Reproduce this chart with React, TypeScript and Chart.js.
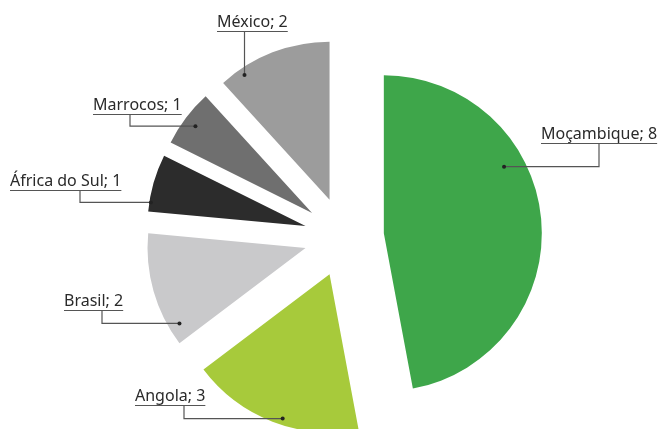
import React, { useEffect, useRef } from "react";
import { Chart, registerables } from "chart.js";

Chart.register(...registerables);

const CATEGORIES = ["Moçambique", "Angola", "Brasil", "África do Sul", "Marrocos", "México"];
const VALUES = [8, 3, 2, 1, 1, 2];
const COLORS = ["#3ea64a", "#a7ca3b", "#c9c9cb", "#2c2c2c", "#6f6f6f", "#9c9c9c"];

// label layout (positions kept separate from data)
const LABEL_X = [541, 135, 64, 10, 93, 217];
const LABEL_LINE_Y = [143, 405, 310, 190, 114, 31];
const ELBOW_X: (number | null)[] = [599, 184, 102, 80, 130, null];
const DOT_ANGLE_FRAC = [0.36, 0.45, 0.145, 0.16, 0.48, 0.19];
const DOT_RADIUS_FRAC = [0.87, 0.96, 0.93, 0.99, 0.92, 0.955];

const EXPLODE = 40;

const explodePlugin = {
  id: "explode",
  beforeDatasetsDraw(chart: any) {
    const ctx = chart.ctx;
    const meta = chart.getDatasetMeta(0);
    meta.data.forEach((arc: any) => {
      const half = (arc.startAngle + arc.endAngle) / 2;
      ctx.save();
      ctx.translate(Math.cos(half) * EXPLODE, Math.sin(half) * EXPLODE);
      arc.draw(ctx);
      ctx.restore();
    });
    return false;
  },
};

const labelPlugin = {
  id: "calloutLabels",
  afterDraw(chart: any) {
    const ctx = chart.ctx;
    const meta = chart.getDatasetMeta(0);
    ctx.save();
    ctx.font = '16px "Noto Sans"';
    meta.data.forEach((arc: any, i: number) => {
      const half = (arc.startAngle + arc.endAngle) / 2;
      const cx = arc.x + Math.cos(half) * EXPLODE;
      const cy = arc.y + Math.sin(half) * EXPLODE;
      const th = arc.startAngle + DOT_ANGLE_FRAC[i] * (arc.endAngle - arc.startAngle);
      const r = DOT_RADIUS_FRAC[i] * arc.outerRadius;
      const dx = cx + Math.cos(th) * r;
      const dy = cy + Math.sin(th) * r;
      const text = `${CATEGORIES[i]}; ${VALUES[i]}`;
      const tx = LABEL_X[i];
      const ly = LABEL_LINE_Y[i];
      const w = ctx.measureText(text).width;
      ctx.fillStyle = "#2a2a2a";
      ctx.textBaseline = "alphabetic";
      ctx.textAlign = "left";
      ctx.fillText(text, tx, ly - 4);
      ctx.strokeStyle = "#555";
      ctx.lineWidth = 1.2;
      ctx.beginPath();
      ctx.moveTo(tx, ly + 0.5);
      ctx.lineTo(tx + w, ly + 0.5);
      ctx.stroke();
      const ex = ELBOW_X[i] ?? dx;
      ctx.beginPath();
      ctx.moveTo(ex, ly);
      ctx.lineTo(ex, dy);
      ctx.lineTo(dx, dy);
      ctx.stroke();
      ctx.fillStyle = "#222";
      ctx.beginPath();
      ctx.arc(dx, dy, 2, 0, Math.PI * 2);
      ctx.fill();
    });
    ctx.restore();
  },
};

export default function App() {
  const ref = useRef<HTMLCanvasElement | null>(null);
  useEffect(() => {
    document.body.style.margin = "0";
    const chart = new Chart(ref.current!, {
      type: "pie",
      data: {
        labels: CATEGORIES,
        datasets: [
          {
            data: VALUES,
            backgroundColor: COLORS,
            borderWidth: 0,
          },
        ],
      },
      options: {
        responsive: false,
        animation: false,
        layout: { padding: { top: 79, bottom: 34, left: 26, right: 0 } },
        plugins: { legend: { display: false }, tooltip: { enabled: false } },
      },
      plugins: [explodePlugin, labelPlugin],
    });
    return () => chart.destroy();
  }, []);
  return (
    <div style={{ position: "fixed", left: 0, top: 0, width: 662, height: 429, background: "#fff" }}>
      <canvas ref={ref} width={662} height={429} />
    </div>
  );
}
